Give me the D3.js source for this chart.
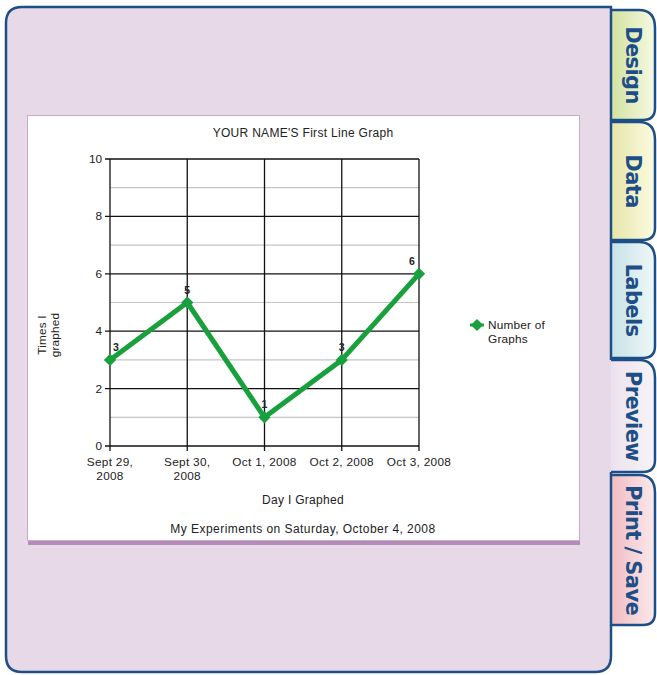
<!DOCTYPE html>
<html><head><meta charset="utf-8">
<script src="https://cdn.jsdelivr.net/npm/d3@7"></script>
<style>html,body{margin:0;padding:0;background:#fff;overflow:hidden}</style>
</head><body>
<svg id="c" width="657" height="675"></svg>
<script>
const categories = [["Sept 29,","2008"],["Sept 30,","2008"],["Oct 1, 2008"],["Oct 2, 2008"],["Oct 3, 2008"]];
const values = [3,5,1,3,6];
const yTicks = [0,2,4,6,8,10];
const yMinor = [1,3,5,7,9];
const seriesName = ["Number of","Graphs"];
const title = "YOUR NAME'S First Line Graph";
const xTitle = "Day I Graphed";
const yTitle = ["Times I","graphed"];
const footer = "My Experiments on Saturday, October 4, 2008";
const tabs = [
  {name:"Design", y0:10, y1:120, c0:"#d3e2a0", c1:"#f6f9e2"},
  {name:"Data", y0:122, y1:240, c0:"#e4e6a8", c1:"#fcfbe2"},
  {name:"Labels", y0:242, y1:358, c0:"#c6e2e8", c1:"#f0f7f7"},
  {name:"Preview", y0:360, y1:472, c0:"#ece2ee", c1:"#f7f3f7", active:true},
  {name:"Print / Save", y0:475, y1:625, c0:"#f0bcc2", c1:"#fce9eb"}
];

const svg = d3.select("#c");
const defs = svg.append("defs");
const blue = "#1d4f86";
const font = "'Liberation Sans', Arial, sans-serif";
const fs = 11.8;

tabs.forEach((t,i)=>{
  const g = defs.append("linearGradient").attr("id","tg"+i).attr("x1","0").attr("x2","1").attr("y1","0").attr("y2","0");
  g.append("stop").attr("offset","0").attr("stop-color",t.c0);
  g.append("stop").attr("offset","1").attr("stop-color",t.c1);
});
const tx0 = 611, tx1 = 655, r = 12;
tabs.forEach((t,i)=>{
  const p = `M${tx0},${t.y0} L${tx1-r-4},${t.y0} Q${tx1},${t.y0} ${tx1},${t.y0+r+6} L${tx1},${t.y1-r} Q${tx1},${t.y1} ${tx1-r},${t.y1} L${tx0},${t.y1}`;
  svg.append("path").attr("d",p+" Z").attr("fill",`url(#tg${i})`).attr("stroke","none");
  svg.append("path").attr("d",p).attr("fill","none").attr("stroke",blue).attr("stroke-width",2.5);
  svg.append("text").attr("transform",`translate(${tx0+15},${(t.y0+t.y1)/2}) rotate(90)`)
    .attr("text-anchor","middle").attr("font-family","'DejaVu Sans', sans-serif").attr("font-weight","bold")
    .attr("font-size",21).attr("fill",blue).attr("letter-spacing",-0.6).text(t.name);
});

const px0=6, py0=7, px1=611, py1=672, pr=16;
svg.append("path").attr("d",`M${px1},${py0} L${px0+pr},${py0} Q${px0},${py0} ${px0},${py0+pr} L${px0},${py1-pr} Q${px0},${py1} ${px0+pr},${py1} L${px1-pr},${py1} Q${px1},${py1} ${px1},${py1-pr} Z`)
  .attr("fill","#e7d9e8");
const act = tabs.find(t=>t.active);
svg.append("path").attr("d",`M${px1},${act.y0} L${px1},${py0} L${px0+pr},${py0} Q${px0},${py0} ${px0},${py0+pr} L${px0},${py1-pr} Q${px0},${py1} ${px0+pr},${py1} L${px1-pr},${py1} Q${px1},${py1} ${px1},${py1-pr} L${px1},${act.y1}`)
  .attr("fill","none").attr("stroke",blue).attr("stroke-width",2.5);

svg.append("rect").attr("x",28).attr("y",116).attr("width",552).attr("height",429).attr("fill","#b48db6");
svg.append("rect").attr("x",27.5).attr("y",115.5).attr("width",552).attr("height",425).attr("fill","#fff").attr("stroke","#c9a9ca");

const x = d3.scalePoint().domain(d3.range(categories.length)).range([110,419]);
const y = d3.scaleLinear().domain([0,10]).range([446,159]);

svg.append("g").selectAll("line").data(yMinor).join("line")
  .attr("x1",110).attr("x2",419).attr("y1",d=>y(d)).attr("y2",d=>y(d))
  .attr("stroke","#c4c4c4").attr("stroke-width",1.2);
svg.append("g").selectAll("line").data(yTicks).join("line")
  .attr("x1",105).attr("x2",419).attr("y1",d=>y(d)).attr("y2",d=>y(d))
  .attr("stroke","#111").attr("stroke-width",1.3);
svg.append("g").selectAll("line").data(d3.range(categories.length)).join("line")
  .attr("x1",d=>x(d)).attr("x2",d=>x(d)).attr("y1",y(10)).attr("y2",y(0)+5)
  .attr("stroke","#111").attr("stroke-width",1.3);

svg.append("g").selectAll("text").data(yTicks).join("text")
  .attr("x",102).attr("y",d=>y(d)+4).attr("text-anchor","end")
  .attr("font-family",font).attr("font-size",fs).attr("fill","#222").text(d=>d);
const xl = svg.append("g").selectAll("text").data(categories).join("text")
  .attr("text-anchor","middle").attr("font-family",font).attr("font-size",fs).attr("letter-spacing",0.3).attr("fill","#222");
xl.each(function(d,i){
  const s = d3.select(this);
  d.forEach((line,j)=>s.append("tspan").attr("x",x(i)).attr("y",466+j*14).text(line));
});

svg.append("text").attr("x",303).attr("y",137).attr("text-anchor","middle").attr("font-family",font).attr("font-size",12).attr("letter-spacing",0.3).attr("fill","#222").text(title);
svg.append("text").attr("x",303).attr("y",504).attr("text-anchor","middle").attr("font-family",font).attr("font-size",12).attr("letter-spacing",0.3).attr("fill","#222").text(xTitle);
svg.append("text").attr("x",303).attr("y",533).attr("text-anchor","middle").attr("font-family",font).attr("font-size",12).attr("letter-spacing",0.45).attr("fill","#222").text(footer);
const yt = svg.append("text").attr("transform","translate(0,335) rotate(-90)").attr("text-anchor","middle").attr("font-family",font).attr("font-size",fs).attr("letter-spacing",0.2).attr("fill","#222");
yTitle.forEach((l,j)=>yt.append("tspan").attr("x",0).attr("y",46+j*13).text(l));

const green = "#18a03c";
svg.append("path").datum(values).attr("fill","none").attr("stroke",green).attr("stroke-width",5).attr("stroke-linejoin","round")
  .attr("d",d3.line().x((d,i)=>x(i)).y(d=>y(d)));
svg.append("g").selectAll("path").data(values).join("path")
  .attr("transform",(d,i)=>`translate(${x(i)},${y(d)}) rotate(45)`)
  .attr("d",d3.symbol().type(d3.symbolSquare).size(75)).attr("fill",green);
svg.append("g").selectAll("text").data(values).join("text")
  .attr("x",(d,i)=>Math.max(116,Math.min(412,x(i)))).attr("y",d=>y(d)-9)
  .attr("text-anchor","middle").attr("font-family",font).attr("font-weight","bold").attr("font-size",10.5).attr("fill","#222").text(d=>d);

svg.append("path").attr("transform","translate(477,325) rotate(45)").attr("d",d3.symbol().type(d3.symbolSquare).size(75)).attr("fill",green);
svg.append("line").attr("x1",470).attr("x2",484).attr("y1",325).attr("y2",325).attr("stroke",green).attr("stroke-width",3);
const lt = svg.append("text").attr("font-family",font).attr("font-size",fs).attr("letter-spacing",0.2).attr("fill","#222");
seriesName.forEach((l,j)=>lt.append("tspan").attr("x",488).attr("y",329+j*14).text(l));
</script>
</body></html>
